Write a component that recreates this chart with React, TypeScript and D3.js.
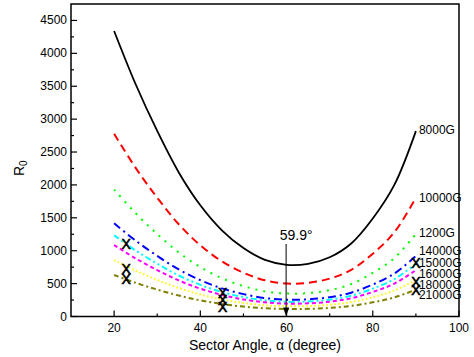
import * as d3 from 'd3';

// sector angle (degree)
const angles = [20, 25, 30, 35, 40, 45, 50, 55, 60, 65, 70, 75, 80, 85, 90];

// R0, one array per field
const r8000 = [4340, 3530, 2820, 2190, 1690, 1310, 1040, 860, 785, 800, 900, 1110, 1490, 2000, 2818];
const r10000 = [2778, 2259, 1805, 1402, 1082, 838, 666, 550, 502, 512, 576, 710, 954, 1280, 1804];
const r12000 = [1929, 1569, 1253, 973, 751, 582, 462, 382, 349, 356, 400, 493, 662, 889, 1253];
const r14000 = [1417, 1153, 921, 715, 552, 428, 340, 281, 256, 261, 294, 362, 486, 653, 920];
const r15000 = [1234, 1004, 802, 623, 481, 373, 296, 245, 223, 228, 256, 316, 424, 569, 801];
const r16000 = [1085, 883, 705, 548, 423, 328, 260, 215, 196, 200, 225, 278, 373, 500, 705];
const r18000 = [857, 697, 557, 433, 334, 259, 205, 170, 155, 158, 178, 219, 294, 395, 557];
const r21000 = [630, 512, 409, 318, 245, 190, 151, 125, 114, 116, 131, 161, 216, 290, 409];

const seriesLabels = ['8000G', '10000G', '1200G', '14000G', '15000G', '16000G', '18000G', '21000G'];
// where each end label sits (R0 units, spread so they do not overlap)
const labelAt = [2829, 1800, 1265, 994, 806, 642, 485, 321];

// X markers (angle, R0)
const markA = [22.8, 22.8, 22.8, 45.2, 45.2, 45.2, 90, 90, 90];
const markR = [1100, 729, 566, 356, 255, 142, 806, 524, 397];

const minAngle = 59.9;

const xTicks = [20, 40, 60, 80, 100];
const yTicks = [0, 500, 1000, 1500, 2000, 2500, 3000, 3500, 4000, 4500];

const W = 474;
const H = 357;
const L = 71, R = 459, T = 4, B = 316.5;
const FONT = '"Liberation Sans", Arial, sans-serif';

const styles = [
  { color: '#000000', dash: '', w: 1.8 },
  { color: '#ff0000', dash: '8,5', w: 2 },
  { color: '#00ff00', dash: '2,6', w: 2 },
  { color: '#0000ff', dash: '8,4,2,4', w: 2 },
  { color: '#00ffff', dash: '6,3,2,3,2,3', w: 2 },
  { color: '#ff00ff', dash: '4,3', w: 2 },
  { color: '#ffff00', dash: '1.5,2.5', w: 2 },
  { color: '#808000', dash: '5,3,2,3', w: 2 },
];

export default function App() {
  const x = d3.scaleLinear().domain([10, 100]).range([L, R]);
  const y = d3.scaleLinear().domain([0, 4750]).range([B, T]);

  const all = [r8000, r10000, r12000, r14000, r15000, r16000, r18000, r21000];
  const line = d3
    .line<number>()
    .x((_, i) => x(angles[i]))
    .y((d) => y(d))
    .curve(d3.curveCatmullRom.alpha(0.5));

  const xMinor = d3.range(30, 100, 20);
  const yMinor = d3.range(250, 4750, 500);
  const ax = x(minAngle);

  return (
    <svg width={W} height={H} style={{ position: 'absolute', left: 0, top: 0, background: '#fff' }} fontFamily={FONT}>
      {/* curves */}
      {all.map((vals, i) => (
        <path
          key={i}
          d={line(vals) || ''}
          fill="none"
          stroke={styles[i].color}
          strokeWidth={styles[i].w}
          strokeDasharray={styles[i].dash || undefined}
        />
      ))}

      {/* X markers */}
      {markA.map((a, i) => (
        <text
          key={'m' + i}
          x={x(a)}
          y={y(markR[i])}
          fontSize={14}
          textAnchor="middle"
          dominantBaseline="central"
          fill="#000"
          stroke="#000"
          strokeWidth={0.6}
        >
          X
        </text>
      ))}

      {/* series labels */}
      {seriesLabels.map((s, i) => (
        <text key={'l' + i} x={x(90) + 3} y={y(labelAt[i])} fontSize={12} dominantBaseline="central" fill="#000">
          {s}
        </text>
      ))}

      {/* minimum annotation */}
      <text x={ax + 10} y={240} fontSize={14} textAnchor="middle" fill="#000">
        59.9°
      </text>
      <line x1={ax} x2={ax} y1={244} y2={B - 7} stroke="#000" strokeWidth={1} />
      <path d={`M${ax - 3},${B - 9} L${ax + 3},${B - 9} L${ax},${B} Z`} fill="#000" />

      {/* frame */}
      <rect x={L} y={T} width={R - L} height={B - T} fill="none" stroke="#000" strokeWidth={1.5} />

      {/* x ticks */}
      {xTicks.map((t) => (
        <g key={'xt' + t}>
          <line x1={x(t)} x2={x(t)} y1={B} y2={B - 6} stroke="#000" strokeWidth={1.2} />
          <text x={x(t)} y={B + 15} fontSize={12} textAnchor="middle" fill="#000">
            {t}
          </text>
        </g>
      ))}
      {xMinor.map((t) => (
        <line key={'xm' + t} x1={x(t)} x2={x(t)} y1={B} y2={B - 3} stroke="#000" strokeWidth={1.2} />
      ))}

      {/* y ticks */}
      {yTicks.map((t) => (
        <g key={'yt' + t}>
          <line x1={L} x2={L + 6} y1={y(t)} y2={y(t)} stroke="#000" strokeWidth={1.2} />
          <text x={L - 4} y={y(t)} fontSize={12} textAnchor="end" dominantBaseline="central" fill="#000">
            {t}
          </text>
        </g>
      ))}
      {yMinor.map((t) => (
        <line key={'ym' + t} x1={L} x2={L + 3} y1={y(t)} y2={y(t)} stroke="#000" strokeWidth={1.2} />
      ))}

      {/* axis titles */}
      <text x={(L + R) / 2} y={350} fontSize={14} textAnchor="middle" fill="#000">
        Sector Angle, α (degree)
      </text>
      <text transform={`translate(24,${(T + B) / 2 + 8}) rotate(-90)`} fontSize={14} textAnchor="middle" fill="#000">
        R<tspan fontSize={10} dy={3}>0</tspan>
      </text>
    </svg>
  );
}
